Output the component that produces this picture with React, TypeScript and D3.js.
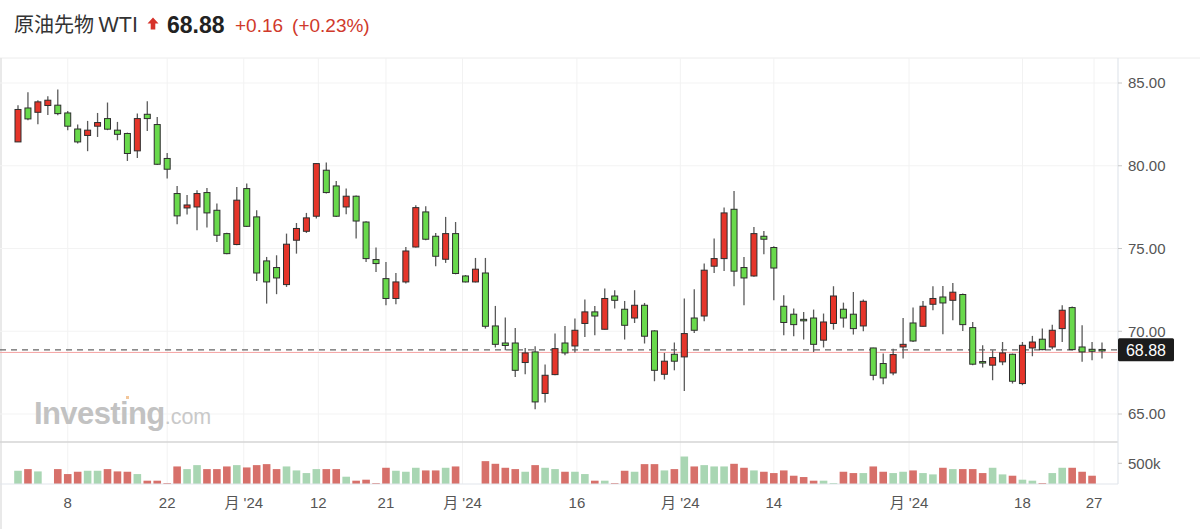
import * as d3 from "d3"

// WTI daily candles (index 0 = oldest)
const opens = [81.44, 83.49, 83.23, 83.64, 83.66, 83.19, 82.22, 81.83, 82.39, 82.85, 82.15, 81.95, 80.9, 83.11, 82.49, 80.44, 78.32, 77.45, 77.51, 78.38, 77.31, 75.9, 75.24, 78.62, 76.91, 74.25, 73.85, 72.82, 75.5, 76.04, 76.95, 79.73, 78.78, 77.51, 78.16, 76.6, 74.33, 73.18, 71.98, 72.98, 75.09, 77.21, 75.74, 74.35, 75.9, 73.34, 72.98, 73.52, 70.32, 69.29, 69.29, 68.11, 68.75, 66.24, 67.38, 69.29, 69.11, 70.47, 71.17, 70.12, 72.13, 71.33, 70.8, 71.57, 70.02, 67.4, 68.61, 68.45, 70.8, 70.92, 73.93, 74.39, 77.37, 73.85, 73.34, 75.74, 75.06, 71.51, 71.03, 70.72, 70.8, 69.46, 70.47, 71.33, 71.03, 70.32, 68.99, 68.05, 67.48, 69.05, 70.5, 70.3, 71.63, 72.07, 71.87, 72.22, 70.22, 68.17, 67.95, 68.15, 68.61, 66.84, 68.99, 69.52, 69.05, 70.16, 71.43, 69.05, 68.91, 68.9]
const highs = [83.66, 84.44, 83.96, 84.2, 84.6, 83.31, 82.49, 82.71, 83.19, 83.82, 82.65, 82.0, 83.15, 83.9, 82.95, 80.77, 78.78, 78.24, 78.52, 78.66, 77.72, 75.95, 78.72, 78.92, 77.31, 74.49, 74.59, 75.9, 76.54, 77.15, 80.17, 80.19, 79.08, 78.62, 78.2, 76.65, 75.06, 74.19, 73.52, 75.09, 77.61, 77.55, 75.94, 76.91, 76.6, 73.4, 74.43, 74.43, 71.53, 70.83, 70.2, 68.99, 69.09, 67.99, 69.86, 70.32, 70.77, 71.92, 71.53, 72.58, 72.48, 71.83, 72.48, 71.71, 70.06, 68.69, 69.32, 71.98, 72.54, 74.09, 75.6, 77.47, 78.48, 74.49, 76.3, 76.06, 75.14, 72.18, 71.37, 71.17, 71.31, 71.07, 72.72, 71.73, 72.37, 71.92, 69.0, 68.65, 68.95, 70.8, 71.43, 71.83, 72.72, 72.74, 72.92, 72.28, 70.56, 69.15, 68.85, 69.35, 68.65, 69.35, 69.72, 70.16, 70.4, 71.57, 71.5, 70.36, 69.35, 69.32]
const lows = [81.44, 82.75, 82.51, 83.07, 83.05, 82.15, 81.34, 80.88, 81.74, 82.15, 81.54, 80.29, 80.47, 82.1, 80.05, 79.23, 76.47, 77.05, 76.1, 76.27, 75.4, 74.65, 75.2, 76.3, 73.04, 71.67, 72.24, 72.68, 74.69, 75.94, 76.81, 78.32, 76.91, 77.07, 75.6, 74.19, 73.58, 71.57, 71.63, 72.88, 75.06, 75.5, 73.93, 74.13, 73.44, 72.95, 72.95, 70.16, 69.02, 68.85, 67.24, 67.4, 65.29, 65.69, 67.34, 68.55, 68.71, 69.66, 69.76, 70.1, 71.37, 69.5, 70.5, 69.26, 66.98, 67.08, 67.64, 66.39, 69.9, 70.6, 73.52, 73.64, 72.72, 71.57, 73.3, 74.65, 71.87, 69.76, 69.7, 69.5, 68.75, 69.02, 70.1, 70.22, 69.8, 70.0, 67.04, 66.8, 67.34, 68.35, 69.35, 70.28, 71.27, 69.82, 70.66, 70.02, 67.95, 67.81, 67.04, 67.95, 66.84, 66.74, 68.49, 68.85, 68.91, 69.35, 68.85, 68.15, 68.25, 68.35]
const closes = [83.4, 82.83, 83.86, 83.96, 83.15, 82.39, 81.44, 82.15, 82.61, 82.21, 81.9, 80.74, 82.85, 82.85, 80.09, 79.79, 76.97, 77.63, 78.32, 77.15, 75.8, 74.69, 77.92, 76.34, 73.52, 72.98, 73.22, 75.26, 76.21, 76.85, 80.13, 78.38, 76.95, 78.16, 76.66, 74.39, 74.09, 71.98, 72.98, 74.85, 77.47, 75.56, 74.53, 75.9, 73.49, 72.98, 73.75, 70.3, 69.21, 69.14, 67.64, 68.69, 65.73, 67.34, 68.95, 68.69, 70.06, 71.17, 70.92, 71.98, 71.87, 70.36, 71.57, 69.7, 67.64, 68.19, 68.19, 69.86, 70.06, 73.69, 74.39, 77.15, 73.63, 73.22, 75.9, 75.56, 73.82, 70.53, 70.4, 70.68, 69.21, 70.56, 72.13, 70.8, 70.16, 71.81, 67.34, 67.18, 68.59, 69.21, 69.41, 71.51, 71.98, 71.71, 72.36, 70.4, 68.01, 68.13, 68.41, 68.69, 66.98, 69.15, 69.35, 68.89, 70.06, 71.27, 68.89, 68.75, 68.79, 68.88]
// volume in thousands (last session has none yet)
const volumes = [320, 360, 304, 0, 360, 240, 296, 320, 320, 360, 304, 296, 240, 80, 80, 24, 424, 360, 456, 360, 360, 424, 456, 400, 456, 480, 360, 424, 328, 264, 360, 360, 360, 176, 80, 104, 24, 392, 320, 296, 392, 328, 328, 392, 424, 0, 0, 552, 488, 392, 360, 296, 456, 392, 360, 296, 296, 240, 80, 80, 24, 320, 296, 480, 480, 328, 360, 664, 424, 456, 424, 424, 488, 392, 328, 296, 264, 328, 200, 168, 80, 80, 24, 296, 264, 264, 424, 296, 264, 296, 328, 264, 232, 392, 360, 360, 360, 264, 392, 232, 200, 104, 80, 24, 264, 392, 392, 296, 200]

const dateTickIdx = [5, 15, 22.7, 30.2, 37, 44.7, 56.2, 66.6, 76, 89.6, 101, 108.2]
const dateTickLabels = ["8", "22", "月 '24", "12", "21", "月 '24", "16", "月 '24", "14", "月 '24", "18", "27"]
const priceTicks = [65, 70, 75, 80, 85]
const volumeTicks = [500]

const lastPrice = 68.88
const prevClose = 68.72
const change = "+0.16"
const changePct = "(+0.23%)"

const W = 1200
const H = 529
const plotRight = 1118
const top = 58
const sepY = 442
const volBase = 484

const UP = "#e5352a"
const DOWN = "#69d94c"
const VOL_UP = "#a9d6b3"
const VOL_DOWN = "#d7706a"
const FONT = "'Liberation Sans', 'Noto Sans CJK JP', sans-serif"

export default function App() {
  const n = closes.length
  const x = d3.scaleLinear().domain([0, n - 1]).range([18, 1102])
  const y = d3.scaleLinear().domain([65, 85]).range([414, 83])
  const yv = d3.scaleLinear().domain([0, 500]).range([volBase, 463.3])

  const bodyW = 6
  const barW = 7.6

  return (
    <svg
      width={W}
      height={H}
      style={{ position: "absolute", left: 0, top: 0, background: "#fff" }}
      fontFamily={FONT}
    >
      {/* header */}
      <text x={14} y={32} fontSize={20} fill="#333" fontFamily="'Noto Sans CJK JP', sans-serif">
        原油先物 <tspan fontFamily={FONT} fontSize={21.5}>WTI</tspan>
      </text>
      <path d="M153,17.5 L158.5,23.5 L155.3,23.5 L155.3,29.5 L150.7,29.5 L150.7,23.5 L147.5,23.5 Z" fill="#d6322a" />
      <text x={167} y={32.5} fontSize={23} fontWeight="bold" fill="#222">{lastPrice.toFixed(2)}</text>
      <text x={235} y={31.5} fontSize={19} fill="#d0392b">
        {change}
        <tspan dx={9}>{changePct}</tspan>
      </text>

      {/* frame */}
      <line x1={0} x2={W} y1={top} y2={top} stroke="#ececec" />
      <line x1={1} x2={1} y1={top} y2={H} stroke="#e2e2e2" strokeWidth={1.5} />

      {/* grid */}
      {priceTicks.map(t => (
        <line key={"gy" + t} x1={0} x2={plotRight} y1={y(t)} y2={y(t)} stroke="#f3f3f3" />
      ))}
      {dateTickIdx.map((t, i) => (
        <line key={"gx" + i} x1={x(t)} x2={x(t)} y1={top} y2={volBase} stroke="#f2f2f2" />
      ))}

      {/* watermark */}
      <text x={34} y={424} fontSize={31} fontWeight="bold" fill="#c2c2c2" letterSpacing={-0.6}>
        Investing<tspan fontWeight="normal" fontSize={21.5} fill="#c9c9c9" letterSpacing={0}>.com</tspan>
      </text>
      <rect x={126} y={396} width={3} height={3} fill="#f3c69a" />

      {/* previous close / last price lines */}
      <line x1={0} x2={plotRight} y1={y(prevClose)} y2={y(prevClose)} stroke="#f5a3a3" strokeWidth={1} />
      <line x1={0} x2={plotRight} y1={y(lastPrice)} y2={y(lastPrice)} stroke="#666" strokeWidth={1.3} strokeDasharray="6,5" />

      {/* candles */}
      {closes.map((c, i) => {
        const o = opens[i]
        const up = c >= o
        const yTop = y(Math.max(o, c))
        const yBot = y(Math.min(o, c))
        const h = Math.max(1.5, yBot - yTop)
        return (
          <g key={"c" + i}>
            <line x1={x(i)} x2={x(i)} y1={y(highs[i])} y2={y(lows[i])} stroke="#5a5a5a" strokeWidth={1.3} />
            <rect
              x={x(i) - bodyW / 2}
              y={yTop}
              width={bodyW}
              height={h}
              fill={up ? UP : DOWN}
              stroke="#2e2e2e"
              strokeWidth={1}
            />
          </g>
        )
      })}

      {/* volume */}
      <line x1={0} x2={plotRight} y1={sepY} y2={sepY} stroke="#d4d4d4" strokeWidth={1.5} />
      {volumes.map((v, i) => (
        <rect
          key={"v" + i}
          x={x(i) - barW / 2}
          y={yv(v)}
          width={barW}
          height={volBase - yv(v)}
          fill={closes[i] >= opens[i] ? VOL_UP : VOL_DOWN}
        />
      ))}
      <line x1={0} x2={plotRight} y1={volBase} y2={volBase} stroke="#e1e6ec" strokeWidth={1.2} />

      {/* right axis */}
      <line x1={plotRight} x2={plotRight} y1={top} y2={volBase} stroke="#e1e6ec" strokeWidth={1.2} />
      {priceTicks.map(t => (
        <g key={"py" + t}>
          <line x1={plotRight} x2={plotRight + 4} y1={y(t)} y2={y(t)} stroke="#c8c8c8" />
          <text x={1128} y={y(t)} dy="0.35em" fontSize={15} fill="#555">{t.toFixed(2)}</text>
        </g>
      ))}
      {volumeTicks.map(t => (
        <g key={"vy" + t}>
          <line x1={plotRight} x2={plotRight + 4} y1={yv(t)} y2={yv(t)} stroke="#c8c8c8" />
          <text x={1128} y={yv(t)} dy="0.35em" fontSize={15} fill="#555">{t}k</text>
        </g>
      ))}
      <rect x={plotRight} y={y(lastPrice) - 11.5} width={56} height={23} fill="#1c1c1c" rx={1.5} />
      <text x={plotRight + 28} y={y(lastPrice)} dy="0.36em" textAnchor="middle" fontSize={16} fill="#fff">
        {lastPrice.toFixed(2)}
      </text>

      {/* date axis */}
      {dateTickIdx.map((t, i) => (
        <text key={"dx" + i} x={x(t)} y={503} dy="0.35em" textAnchor="middle" fontSize={15} fill="#555">
          {dateTickLabels[i]}
        </text>
      ))}
    </svg>
  )
}
